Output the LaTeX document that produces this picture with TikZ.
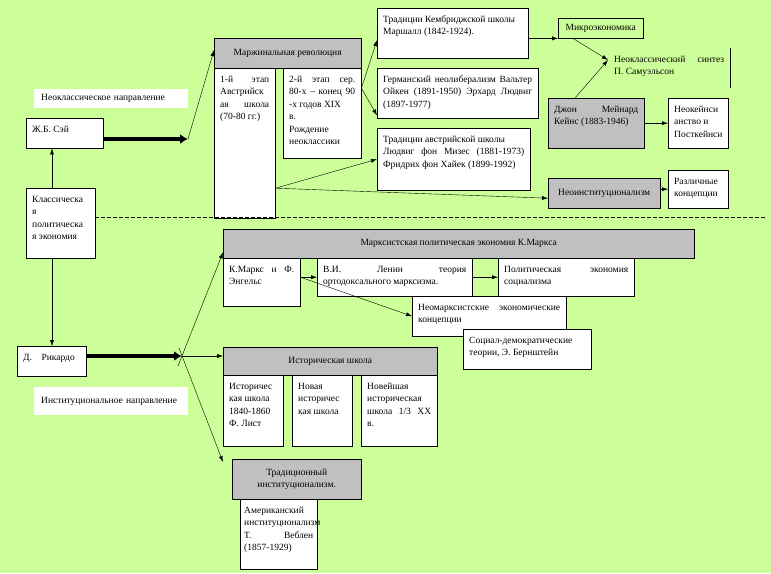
\documentclass[tikz,border=0pt]{standalone}
\usepackage{fontspec}
\setmainfont{Liberation Serif}
\usetikzlibrary{arrows.meta,positioning,calc}
\definecolor{FondoVerde}{RGB}{204,255,153}
\definecolor{GrisCaja}{RGB}{192,192,192}
\hbadness=10000

\begin{document}
\begin{tikzpicture}[x=1pt, y=-1pt,
    font=\fontsize{9.5}{12.5}\selectfont,
    cell/.style={draw, fill=white, anchor=north west, align=justify, inner xsep=6pt,
      inner ysep=4pt, text height=10pt},
    hdr/.style={draw, fill=GrisCaja, anchor=north west, align=center, inner sep=2pt},
    lbl/.style={fill=white, anchor=north west, align=left, inner xsep=7pt, text width=140pt},
    arr/.style={-{Latex[length=6pt,width=4pt]}, thin},
    grueso/.style={-{Latex[length=8pt,width=10pt]}, line width=3.5pt},
    guiones/.style={dash pattern=on 4pt off 2pt, line width=0.8pt}
  ]
    \fill[FondoVerde] (0,0) rectangle (771,573);
    % parte superior
    \node[lbl, minimum height=19pt] (neolbl) at (34,89) {Неоклассическое направление};
    \node[cell, text width=65pt, text depth=12pt] (sey) at (26,118) {Ж.Б. Сэй};
    \node[hdr, minimum width=147pt, minimum height=30pt] (marg) at (214,38) {Маржинальная революция};
    \node[cell, text width=49pt, text depth=132pt] (etap1) at (214,68)
      {1-й этап\linebreak Австрийск\linebreak ая школа\linebreak (70-80 гг.)};
    \node[cell, text width=66pt, text depth=72pt] (etap2) at (283,68)
      {2-й этап сер.\linebreak 80-х – конец 90\linebreak -х годов XIX\newline в.\newline Рождение\newline неоклассики};
    \node[cell, text width=139pt, text depth=32pt] (camb) at (377,8)
      {Традиции Кембриджской школы\newline Маршалл (1842-1924).};
    \node[cell, text width=149pt, text depth=32pt] (germ) at (377,68)
      {Германский неолиберализм Вальтер\linebreak Ойкен (1891-1950) Эрхард Людвиг\linebreak (1897-1977)};
    \node[cell, text width=141pt, text depth=44pt] (austr) at (377,128)
      {Традиции австрийской школы\newline Людвиг фон Мизес (1881-1973)\linebreak Фридрих фон Хайек (1899-1992)};
    \node[hdr, fill=none, minimum width=85pt, minimum height=20pt] (micro) at (558,18) {Микроэкономика};
    \node[cell, draw=none, fill=none, text width=110pt, text depth=22pt] (synth) at (608,48)
      {Неоклассический синтез\linebreak П. Самуэльсон};
    \node[cell, fill=GrisCaja, text width=84pt, text depth=32pt] (keynes) at (548,98)
      {Джон Мейнард\linebreak Кейнс (1883-1946)};
    \node[cell, text width=48pt, text depth=32pt] (neokeyn) at (668,98)
      {Неокейнси\newline анство и\newline Посткейнси};
    \node[hdr, minimum width=112pt, minimum height=30pt] (neoinst) at (548,178) {Неоинституционализм};
    \node[cell, text width=48pt, text depth=20pt] (razl) at (668,170) {Различные\newline концепции};
    \node[cell, text width=57pt, text depth=52pt] (classic) at (26,188)
      {Классическа\newline я\newline политическа\newline я экономия};
    % parte inferior
    \node[cell, text width=57pt, text depth=12pt] (rik) at (17,346) {Д.\quad Рикардо};
    \node[lbl, minimum height=28pt] (instlbl) at (34,387) {Институциональное направление};
    \node[hdr, minimum width=471pt, minimum height=29pt] (marxhdr) at (223,229)
      {Марксистская политическая экономия К.Маркса};
    \node[cell, text width=65pt, text depth=30pt] (marx) at (223,258) {К.Маркс и Ф.\linebreak Энгельс};
    \node[cell, text width=143pt, text depth=20pt] (lenin) at (317,258)
      {В.И. Ленин теория\linebreak ортодоксального марксизма.};
    \node[cell, text width=124pt, text depth=20pt] (polsoc) at (498,258)
      {Политическая экономия\linebreak социализма};
    \node[cell, text width=142pt, text depth=22pt] (neomarx) at (412,296)
      {Неомарксистские экономические\linebreak концепции};
    \node[cell, text width=116pt, text depth=22pt] (socdem) at (463,329)
      {Социал-демократические\newline теории, Э. Бернштейн};
    \node[hdr, minimum width=214pt, minimum height=28pt] (histhdr) at (223,347) {Историческая школа};
    \node[cell, text width=48pt, text depth=53pt] (hist1) at (223,375)
      {Историчес\newline кая школа\newline 1840-1860\newline Ф. Лист};
    \node[cell, text width=48pt, text depth=53pt] (hist2) at (292,375)
      {Новая\newline историчес\newline кая школа};
    \node[cell, text width=64pt, text depth=53pt] (hist3) at (361,375)
      {Новейшая\newline историческая\newline школа 1/3 XX\linebreak в.};
    \node[hdr, minimum width=129pt, minimum height=40pt] (tradhdr) at (232,459)
      {Традиционный\\ институционализм.};
    \node[cell, inner xsep=4pt, text width=69pt, text depth=52pt] (amer) at (240,499)
      {Американский\newline институционализм\newline Т. Веблен\linebreak (1857-1929)};
    % conectores
    \coordinate (corte) at (765,217);
    \coordinate (j1) at (188,139);
    \coordinate (j2) at (182,356);
    \coordinate (syn) at (608,60);
    \coordinate (eje) at ([xshift=26pt]classic.north west);
    \coordinate (e1) at ([yshift=-45pt]etap1.east);
    \coordinate (e2) at ([yshift=25pt]etap2.east);
    \draw[guiones] (classic.east |- corte) -- (corte);
    \draw[grueso] (sey.east |- j1) -- (j1);
    \draw[arr] (j1) -- ([yshift=3pt]marg.west);
    \draw[arr] (eje) -- (eje |- sey.south);
    \draw[arr] (eje |- classic.south) -- (eje |- rik.north);
    \draw[arr] (e2) -- ([yshift=-7pt]camb.west);
    \draw[arr] (e2) -- ([yshift=3pt]germ.south west);
    \draw[arr] (e1) -- (austr.west);
    \draw[arr] (e1) -- ([yshift=-5pt]neoinst.west);
    \draw[arr] (micro.south west -| camb.east) -- (micro.south west);
    \draw[arr] ([xshift=15pt]micro.south west) -- (syn);
    \draw[arr] ([xshift=27pt]keynes.north west) -- (syn);
    \draw (synth.north east) -- (synth.south east);
    \draw[arr] (keynes.east) -- (neokeyn.west);
    \draw[arr] (neoinst.east |- razl.west) -- (razl.west);
    \draw[grueso] (rik.east |- j2) -- (j2);
    \draw[arr] ([shift={(-4pt,-10pt)}]j2) -- ([yshift=6pt]marxhdr.south west);
    \draw[arr] (j2) -- (histhdr.west |- j2);
    \draw[arr] ([shift={(-3pt,8pt)}]j2) -- ([xshift=-9pt,yshift=-3pt]tradhdr.north west);
    \draw[arr] (lenin.west -| marx.east) -- (lenin.west);
    \draw[arr] (lenin.west -| marx.east) -- (neomarx.west);
    \draw[arr] (lenin.east) -- (lenin.east -| polsoc.west);
  \end{tikzpicture}
\end{document}
